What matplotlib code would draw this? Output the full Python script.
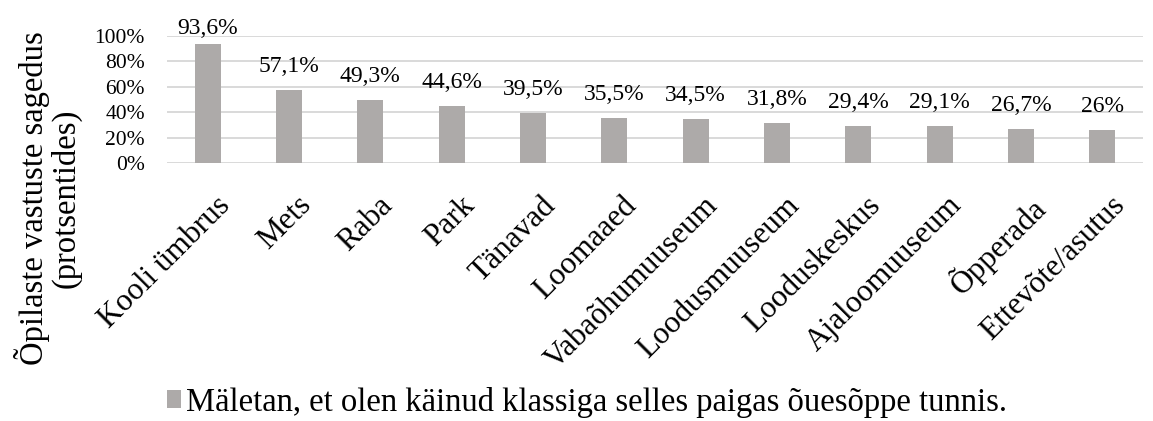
import numpy as np
import matplotlib
matplotlib.use("Agg")
import matplotlib.pyplot as plt
import matplotlib.transforms as mtransforms
from matplotlib.ticker import FuncFormatter

categories = ["Kooli ümbrus", "Mets", "Raba", "Park", "Tänavad", "Loomaaed",
              "Vabaõhumuuseum", "Loodusmuuseum", "Looduskeskus", "Ajaloomuuseum",
              "Õpperada", "Ettevõte/asutus"]
values = [93.6, 57.1, 49.3, 44.6, 39.5, 35.5, 34.5, 31.8, 29.4, 29.1, 26.7, 26.0]
value_labels = ["93,6%", "57,1%", "49,3%", "44,6%", "39,5%", "35,5%", "34,5%",
                "31,8%", "29,4%", "29,1%", "26,7%", "26%"]
series_name = "Mäletan, et olen käinud klassiga selles paigas õuesõppe tunnis."

plt.rcParams['font.family'] = ['Liberation Serif', 'DejaVu Serif']

fig = plt.figure(figsize=(11.53, 4.21), dpi=100)
ax = fig.add_axes([167/1153, 1-163/421, (1143-167)/1153, (163-36)/421])

x = np.arange(len(categories))
bars = ax.bar(x, values, width=0.32, color='#ADAAA9', label=series_name, zorder=3)
for xi, v, lab in zip(x, values, value_labels):
    off = 13 if v < 90 else 7
    ax.annotate(lab, (xi, v), xytext=(0, off), textcoords='offset points',
                ha='center', va='baseline', fontsize=17, annotation_clip=False)

ax.set_xlim(-0.5, len(categories) - 0.5)
ax.set_ylim(0, 100)
ax.set_yticks([0, 20, 40, 60, 80, 100])
ax.yaxis.set_major_formatter(FuncFormatter(lambda v, p: f"{int(v)}%"))
ax.grid(axis='y', color='#D9D9D9', linewidth=1.4, zorder=0)
for s in ax.spines.values():
    s.set_visible(False)
ax.tick_params(axis='both', length=0)
ax.tick_params(axis='y', labelsize=15.5, pad=16)
ax.set_xticks(x)
ax.set_xticklabels(categories, rotation=45, ha='right', rotation_mode='anchor', fontsize=22.5)
ax.tick_params(axis='x', pad=20)
shift = mtransforms.ScaledTranslation(8/100, 0, fig.dpi_scale_trans)
for t in ax.get_xticklabels():
    t.set_transform(t.get_transform() + shift)

fig.text(48/1153, 1-198/421, "Õpilaste vastuste sagedus\n(protsentides)", rotation=90,
         ha='center', va='center', fontsize=23.5, linespacing=1.0)

fig.legend(handles=[bars], labels=[series_name], loc='center', bbox_to_anchor=(0.509, 0.045),
           frameon=False, fontsize=23.5, handlelength=0.45, handleheight=0.45, handletextpad=0.15)

fig.savefig("out.png", dpi=100)
